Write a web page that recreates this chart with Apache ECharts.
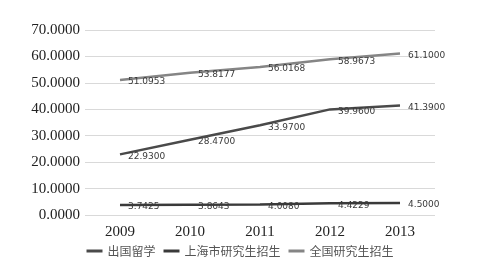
<!DOCTYPE html>
<html>
<head>
<meta charset="utf-8">
<script src="https://cdn.jsdelivr.net/npm/echarts@6/dist/echarts.min.js"></script>
<style>
  html, body { margin: 0; padding: 0; background: #fff; }
  #chart { width: 480px; height: 266px; }
</style>
</head>
<body>
<div id="chart"></div>
<script>
var years = ['2009', '2010', '2011', '2012', '2013'];
var abroad = [22.93, 28.47, 33.97, 39.96, 41.39];
var shanghai = [3.7425, 3.8643, 4.0080, 4.4229, 4.5000];
var national = [51.0953, 53.8177, 56.0168, 58.9673, 61.1000];

var myChart = echarts.init(document.getElementById('chart'));

function mkSeries(name, data, color) {
    return {
        name: name,
        type: 'line',
        data: data,
        symbol: 'circle',
        symbolSize: 0.1,
        showSymbol: true,
        lineStyle: { width: 2.5, color: color },
        itemStyle: { color: color },
        label: {
            show: true,
            position: 'right',
            distance: 8,
            offset: [0, 2],
            fontFamily: 'DejaVu Sans',
            fontSize: 9,
            color: '#3a3a3a',
            formatter: function (p) { return p.value.toFixed(4); }
        }
    };
}

var option = {
    animation: false,
    grid: { left: 85, right: 45, top: 30, bottom: 51 },
    legend: {
        bottom: 4,
        left: 'center',
        icon: 'rect',
        itemWidth: 16,
        itemHeight: 3,
        itemGap: 8,
        textStyle: { fontFamily: 'Noto Sans CJK SC', fontSize: 12, color: '#555' },
        data: ['出国留学', '上海市研究生招生', '全国研究生招生']
    },
    xAxis: {
        type: 'category',
        data: years,
        boundaryGap: true,
        axisLine: { show: false },
        axisTick: { show: false },
        axisLabel: { fontFamily: 'Liberation Serif', fontSize: 15, color: '#222', margin: 10 }
    },
    yAxis: {
        type: 'value',
        min: 0,
        max: 70,
        interval: 10,
        axisLine: { show: false },
        axisTick: { show: false },
        splitLine: { lineStyle: { color: '#d9d9d9', width: 1 } },
        axisLabel: {
            fontFamily: 'Liberation Serif',
            fontSize: 15,
            color: '#222',
            margin: 5,
            formatter: function (v) { return v.toFixed(4); }
        }
    },
    series: [
        mkSeries('出国留学', abroad, '#4a4a4a'),
        mkSeries('上海市研究生招生', shanghai, '#3a3a3a'),
        mkSeries('全国研究生招生', national, '#858585')
    ]
};

myChart.setOption(option);
</script>
</body>
</html>
